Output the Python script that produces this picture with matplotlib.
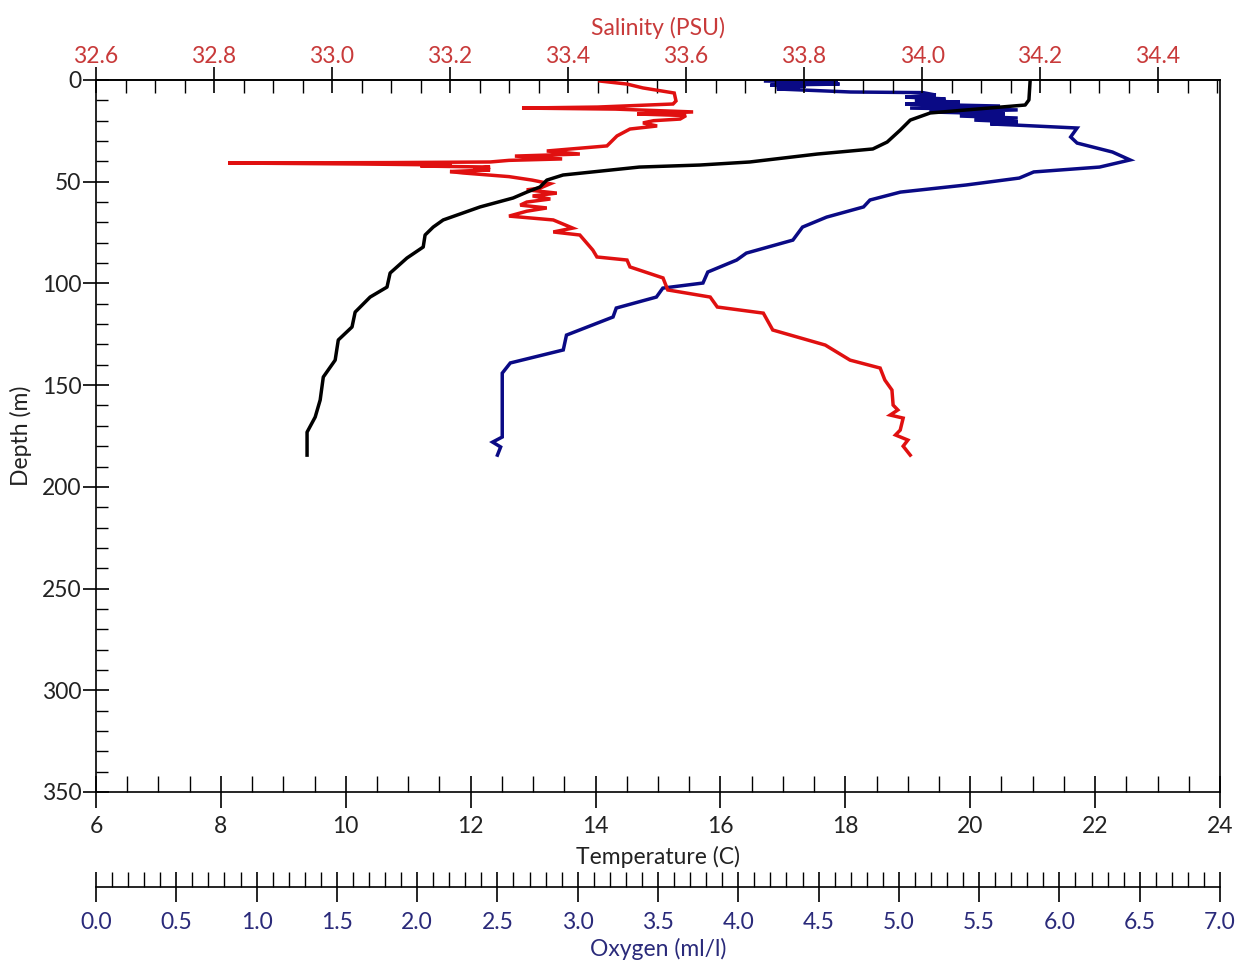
import matplotlib
matplotlib.use("Agg")
import matplotlib.pyplot as plt
from matplotlib.ticker import MultipleLocator, FormatStrFormatter

plt.rcParams['font.family'] = ['Lato', 'DejaVu Sans']

# ---------------- data ----------------
temp_depth = [0, 9.8, 12.3, 16.2, 19.7, 24.6, 30.5, 33.9, 36.4, 40.3, 41.8, 42.8, 46.7,
              49.2, 52.6, 55.1, 58.0, 62.4, 68.8, 72.3, 76.2, 82.1, 87.5, 94.9, 101.8,
              106.7, 114.1, 121.4, 127.8, 137.7, 146.0, 157.3, 165.7, 173.1, 184.4]
temperature = [20.96, 20.94, 20.88, 19.36, 19.04, 18.88, 18.67, 18.44, 17.55, 16.47, 15.67,
               14.70, 13.48, 13.22, 13.11, 12.90, 12.68, 12.15, 11.56, 11.40, 11.27, 11.24,
               10.98, 10.71, 10.66, 10.39, 10.15, 10.10, 9.88, 9.83, 9.64, 9.59, 9.51, 9.38, 9.38]

sal_depth = [0.5, 2.0, 3.9, 6.4, 10.3, 11.8, 13.3, 13.8, 14.3, 15.7, 16.7, 17.5, 19.2, 20.0,
             21.1, 22.6, 24.1, 27.5, 32.4, 34.9, 36.4, 37.4, 38.8, 39.5, 40.3, 40.6, 40.8,
             41.3, 41.8, 42.3, 42.8, 43.5, 44.2, 45.0, 45.7, 47.5, 49.2, 51.0, 53.1, 54.0,
             55.6, 57.0, 58.5, 60.0, 61.5, 62.9, 64.5, 66.9, 68.8, 72.8, 74.7, 76.2, 83.6,
             87.0, 88.5, 91.9, 97.3, 103.2, 106.7, 111.6, 114.6, 122.9, 130.3, 137.7, 141.6,
             147.5, 152.4, 159.8, 162.2, 164.7, 166.2, 172.1, 174.5, 177.0, 180.0, 184.4]
salinity = [33.454, 33.500, 33.527, 33.580, 33.583, 33.578, 33.450, 33.322, 33.480, 33.612,
            33.517, 33.600, 33.590, 33.545, 33.527, 33.551, 33.505, 33.483, 33.466, 33.364,
            33.420, 33.310, 33.390, 33.300, 33.268, 33.100, 32.824, 33.050, 33.203, 33.150,
            33.268, 33.240, 33.268, 33.200, 33.222, 33.300, 33.339, 33.370, 33.353, 33.330,
            33.381, 33.340, 33.370, 33.330, 33.319, 33.364, 33.330, 33.300, 33.375, 33.408,
            33.375, 33.420, 33.442, 33.449, 33.500, 33.505, 33.561, 33.569, 33.641, 33.653,
            33.731, 33.747, 33.836, 33.878, 33.929, 33.937, 33.949, 33.951, 33.959, 33.946,
            33.968, 33.963, 33.955, 33.976, 33.968, 33.980]

oxy_depth = [0.5, 1.0, 1.5, 2.0, 2.5, 2.9, 3.4, 3.9, 4.4, 5.9, 6.2, 7.4, 8.4, 9.3, 10.3,
             10.8, 11.8, 12.8, 13.8, 14.7, 15.7, 16.7, 17.7, 18.7, 19.7, 20.6, 21.6, 22.1,
             23.6, 28.0, 31.0, 35.4, 39.3, 42.8, 45.2, 48.2, 51.6, 55.1, 59.0, 62.4, 67.4,
             72.3, 78.7, 85.1, 88.5, 94.4, 99.8, 102.3, 106.7, 112.1, 116.5, 125.4, 132.7,
             139.1, 144.1, 165.7, 175.5, 178.0, 180.4, 184.4]
oxygen = [4.17, 4.62, 4.23, 4.63, 4.20, 4.42, 4.24, 4.38, 4.24, 4.70, 5.15, 5.23, 5.04,
          5.29, 5.10, 5.38, 5.04, 5.63, 5.07, 5.74, 5.19, 5.66, 5.38, 5.74, 5.47, 5.74,
          5.57, 5.71, 6.11, 6.07, 6.11, 6.33, 6.44, 6.25, 5.84, 5.75, 5.42, 5.01, 4.82,
          4.78, 4.55, 4.40, 4.34, 4.05, 3.99, 3.81, 3.78, 3.53, 3.49, 3.24, 3.22, 2.93,
          2.91, 2.58, 2.53, 2.53, 2.53, 2.47, 2.52, 2.50]

# ---------------- styling ----------------
RED_LINE = '#E01010'
RED_TXT = '#C83A3A'
BLUE_LINE = '#0A0A85'
BLUE_TXT = '#2A2A7A'
TXT = '#222222'
FS = 16.5
PX = 72 / 100.0  # points per pixel

fig = plt.figure(figsize=(12.37, 9.65), dpi=100)
ax = fig.add_axes([96 / 1237, 1 - 792 / 965, (1220 - 96) / 1237, (792 - 80) / 965])
ax_s = ax.twiny()
ax_o = ax.twiny()

ax_o.plot(oxygen, oxy_depth, color=BLUE_LINE, lw=2.5, solid_joinstyle='miter')
ax_s.plot(salinity, sal_depth, color=RED_LINE, lw=2.5, solid_joinstyle='miter')
ax.plot(temperature, temp_depth, color='black', lw=2.5)

ax.set_zorder(3)
ax_s.set_zorder(2)
ax_o.set_zorder(1)
ax.patch.set_visible(False)
ax_s.patch.set_visible(False)

ax.set_xlim(6, 24)
ax.set_ylim(350, 0)
ax_s.set_xlim(32.6, 34.505)
ax_o.set_xlim(0, 7)

for a in (ax, ax_s, ax_o):
    for sp in a.spines.values():
        sp.set_linewidth(1.2)

# main axis: temperature / depth
ax.xaxis.set_major_locator(MultipleLocator(2))
ax.xaxis.set_minor_locator(MultipleLocator(0.5))
ax.yaxis.set_major_locator(MultipleLocator(50))
ax.yaxis.set_minor_locator(MultipleLocator(10))
ax.tick_params(axis='x', which='major', direction='inout', length=32 * PX, width=1.2,
               labelsize=FS, labelcolor=TXT, pad=6, top=False)
ax.tick_params(axis='x', which='minor', direction='in', length=16 * PX, width=1.0, top=False)
ax.tick_params(axis='y', which='major', direction='inout', length=26 * PX, width=1.2,
               labelsize=FS, labelcolor=TXT, pad=1, right=False)
ax.tick_params(axis='y', which='minor', direction='in', length=12 * PX, width=1.0, right=False)
ax.set_xlabel('Temperature (C)', fontsize=FS, color=TXT, labelpad=6)
ax.set_ylabel('Depth (m)', fontsize=FS, color=TXT, labelpad=7)

# salinity (top)
ax_s.xaxis.set_major_locator(MultipleLocator(0.2))
ax_s.xaxis.set_minor_locator(MultipleLocator(0.05))
ax_s.xaxis.set_major_formatter(FormatStrFormatter('%.1f'))
ax_s.tick_params(axis='x', which='major', direction='inout', length=26 * PX, width=1.2,
                 labelsize=FS, labelcolor=RED_TXT, pad=0)
ax_s.tick_params(axis='x', which='minor', direction='in', length=13 * PX, width=1.0)
ax_s.set_xlabel('Salinity (PSU)', fontsize=FS, color=RED_TXT, labelpad=8)
for sp in ('left', 'right', 'bottom'):
    ax_s.spines[sp].set_visible(False)

# oxygen (detached bottom axis)
ax_o.xaxis.set_ticks_position('bottom')
ax_o.xaxis.set_label_position('bottom')
ax_o.spines['bottom'].set_position(('outward', 95 * PX))
for sp in ('left', 'right', 'top'):
    ax_o.spines[sp].set_visible(False)
ax_o.xaxis.set_major_locator(MultipleLocator(0.5))
ax_o.xaxis.set_minor_locator(MultipleLocator(0.1))
ax_o.xaxis.set_major_formatter(FormatStrFormatter('%.1f'))
ax_o.tick_params(axis='x', which='major', direction='inout', length=30 * PX, width=1.2,
                 labelsize=FS, labelcolor=BLUE_TXT, pad=7)
ax_o.tick_params(axis='x', which='minor', direction='in', length=15 * PX, width=1.0)
ax_o.set_xlabel('Oxygen (ml/l)', fontsize=FS, color=BLUE_TXT, labelpad=4)

fig.savefig('out.png', dpi=100)
